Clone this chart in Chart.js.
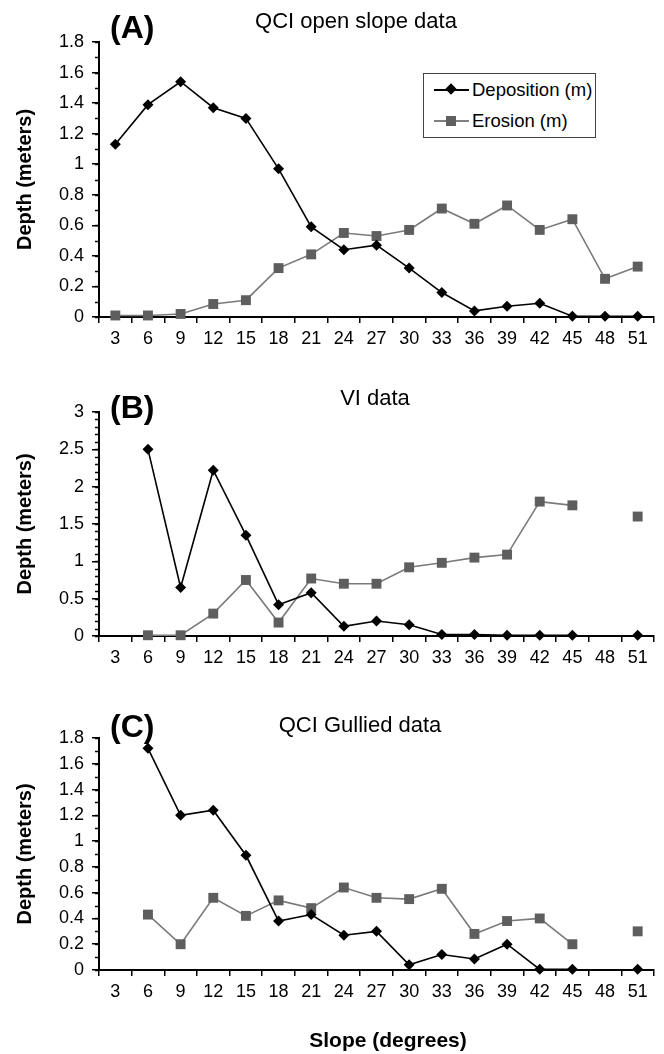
<!DOCTYPE html>
<html>
<head>
<meta charset="utf-8">
<script src="https://cdn.jsdelivr.net/npm/chart.js@4.4.1/dist/chart.umd.min.js"></script>
<style>
  html, body { margin:0; padding:0; background:#fff; }
  body { width:664px; height:1054px; position:relative; overflow:hidden;
         font-family:"Liberation Sans", Arial, Helvetica, sans-serif; color:#000; }
  .panel { position:absolute; left:0; width:664px; }
  .panel canvas { display:block; }
  .letter { position:absolute; font-weight:bold; font-size:32px; line-height:32px; white-space:nowrap; }
  .title { position:absolute; font-size:22px; line-height:22px; white-space:nowrap; transform:translateX(-50%); }
  .xtitle { position:absolute; font-weight:bold; font-size:21px; line-height:21px; white-space:nowrap; transform:translateX(-50%); }
  .legend { position:absolute; left:423px; top:73px; width:171px; height:63px; border:1px solid #444; background:#fff; }
  .row { position:absolute; left:0; height:20px; width:100%; }
  .row .ln { position:absolute; left:10px; width:35px; top:9px; height:0; }
  .row .mk { position:absolute; }
  .row .tx { position:absolute; left:48px; top:0; font-size:18.5px; line-height:20px; white-space:nowrap; }
</style>
</head>
<body>
<div class="panel" style="top:0px;height:357px"><canvas id="cA" width="664" height="357"></canvas></div>
<div class="panel" style="top:370px;height:306px"><canvas id="cB" width="664" height="306"></canvas></div>
<div class="panel" style="top:696px;height:358px"><canvas id="cC" width="664" height="358"></canvas></div>

<div class="letter" style="left:110px;top:11px">(A)</div>
<div class="title" style="left:356px;top:10px">QCI open slope data</div>
<div class="letter" style="left:110px;top:391px">(B)</div>
<div class="title" style="left:375px;top:387px">VI data</div>
<div class="letter" style="left:110px;top:710px">(C)</div>
<div class="title" style="left:360px;top:714px">QCI Gullied data</div>
<div class="xtitle" style="left:388px;top:1029px">Slope (degrees)</div>

<div class="legend">
  <div class="row" style="top:6px">
    <div class="ln" style="border-top:2px solid #000"></div>
    <div class="mk" style="left:23px;top:5px;width:8px;height:8px;background:#000;transform:rotate(45deg)"></div>
    <div class="tx">Deposition (m)</div>
  </div>
  <div class="row" style="top:37px">
    <div class="ln" style="border-top:2px solid #808080"></div>
    <div class="mk" style="left:22px;top:5px;width:10px;height:10px;background:#606060"></div>
    <div class="tx">Erosion (m)</div>
  </div>
</div>

<script>
// ---------- data ----------
const slopeLabels = ['3','6','9','12','15','18','21','24','27','30','33','36','39','42','45','48','51'];

const depositionA = [1.13, 1.39, 1.54, 1.37, 1.30, 0.97, 0.59, 0.44, 0.47, 0.32, 0.16, 0.04, 0.07, 0.09, 0.005, 0.005, 0.005];
const erosionA    = [0.01, 0.01, 0.02, 0.085, 0.11, 0.32, 0.41, 0.55, 0.53, 0.57, 0.71, 0.61, 0.73, 0.57, 0.64, 0.25, 0.33];

const depositionB = [null, 2.50, 0.65, 2.22, 1.35, 0.42, 0.58, 0.13, 0.20, 0.15, 0.02, 0.02, 0.01, 0.01, 0.01, null, 0.01];
const erosionB    = [null, 0.01, 0.01, 0.30, 0.75, 0.18, 0.77, 0.70, 0.70, 0.92, 0.98, 1.05, 1.09, 1.80, 1.75, null, 1.60];

const depositionC = [null, 1.72, 1.20, 1.24, 0.89, 0.38, 0.43, 0.27, 0.30, 0.04, 0.12, 0.085, 0.20, 0.005, 0.005, null, 0.005];
const erosionC    = [null, 0.43, 0.20, 0.56, 0.42, 0.54, 0.48, 0.64, 0.56, 0.55, 0.63, 0.28, 0.38, 0.40, 0.20, null, 0.30];

const yMaxA = 1.8, yStepA = 0.2, yMinorA = 0.1;
const yMaxB = 3.0, yStepB = 0.5, yMinorB = 0.1;
const yMaxC = 1.8, yStepC = 0.2, yMinorC = 0.1;

const seriesNames = ['Deposition (m)', 'Erosion (m)'];
const yAxisTitle = 'Depth (meters)';

// ---------- chart helpers ----------
const FONT = '"Liberation Sans", Arial, Helvetica, sans-serif';

const minorTicks = {
  id: 'minorTicks',
  afterDraw(chart, args, opts) {
    const y = chart.scales.y, ctx = chart.ctx;
    ctx.save();
    ctx.strokeStyle = '#000';
    ctx.lineWidth = 1.5;
    const n = Math.round((y.max - y.min) / opts.step);
    for (let i = 0; i <= n; i++) {
      const p = Math.round(y.getPixelForValue(y.min + i * opts.step)) + 0.5;
      ctx.beginPath();
      ctx.moveTo(y.right - 4, p);
      ctx.lineTo(y.right, p);
      ctx.stroke();
    }
    ctx.restore();
  }
};

function makePanel(id, dep, ero, yMax, yStep, yMinor, xHeight) {
  new Chart(document.getElementById(id), {
    type: 'line',
    data: {
      labels: slopeLabels,
      datasets: [
        { label: seriesNames[0], data: dep, borderColor: '#000', backgroundColor: '#000',
          borderWidth: 1.6, pointStyle: 'rectRot', pointRadius: 5.5, pointBorderWidth: 0,
          pointBackgroundColor: '#000', spanGaps: false, tension: 0, clip: false, order: 1 },
        { label: seriesNames[1], data: ero, borderColor: '#7a7a7a', backgroundColor: '#5e5e5e',
          borderWidth: 1.6, pointStyle: 'rect', pointRadius: 7, pointBorderWidth: 0,
          pointBackgroundColor: '#5e5e5e', spanGaps: false, tension: 0, clip: false, order: 2 }
      ]
    },
    options: {
      responsive: false,
      animation: false,
      devicePixelRatio: 1,
      layout: { padding: { top: 42, right: 10, left: 0, bottom: 0 } },
      plugins: { legend: { display: false }, tooltip: { enabled: false }, minorTicks: { step: yMinor } },
      scales: {
        x: {
          type: 'category',
          offset: true,
          afterFit: (s) => { s.height = xHeight; },
          grid: { offset: true, drawOnChartArea: false, drawTicks: true, tickLength: 6,
                  color: '#000', lineWidth: 1.5 },
          border: { display: true, color: '#000', width: 2 },
          ticks: { color: '#000', font: { family: FONT, size: 18 }, padding: 5,
                   maxRotation: 0, autoSkip: false }
        },
        y: {
          type: 'linear',
          min: 0, max: yMax,
          afterFit: (s) => { s.width = 99; },
          grid: { drawOnChartArea: false, drawTicks: true, tickLength: 7, color: '#000', lineWidth: 1.5 },
          border: { display: true, color: '#000', width: 2 },
          ticks: { stepSize: yStep, color: '#000', font: { family: FONT, size: 18 }, padding: 8,
                   callback: (v) => String(parseFloat(Number(v).toFixed(2))) },
          title: { display: true, text: yAxisTitle, color: '#000',
                   font: { family: FONT, size: 20, weight: 'bold' }, padding: { top: 13, bottom: 0 } }
        }
      }
    },
    plugins: [minorTicks]
  });
}

makePanel('cA', depositionA, erosionA, yMaxA, yStepA, yMinorA, 40);
makePanel('cB', depositionB, erosionB, yMaxB, yStepB, yMinorB, 40);
makePanel('cC', depositionC, erosionC, yMaxC, yStepC, yMinorC, 84);
</script>
</body>
</html>
